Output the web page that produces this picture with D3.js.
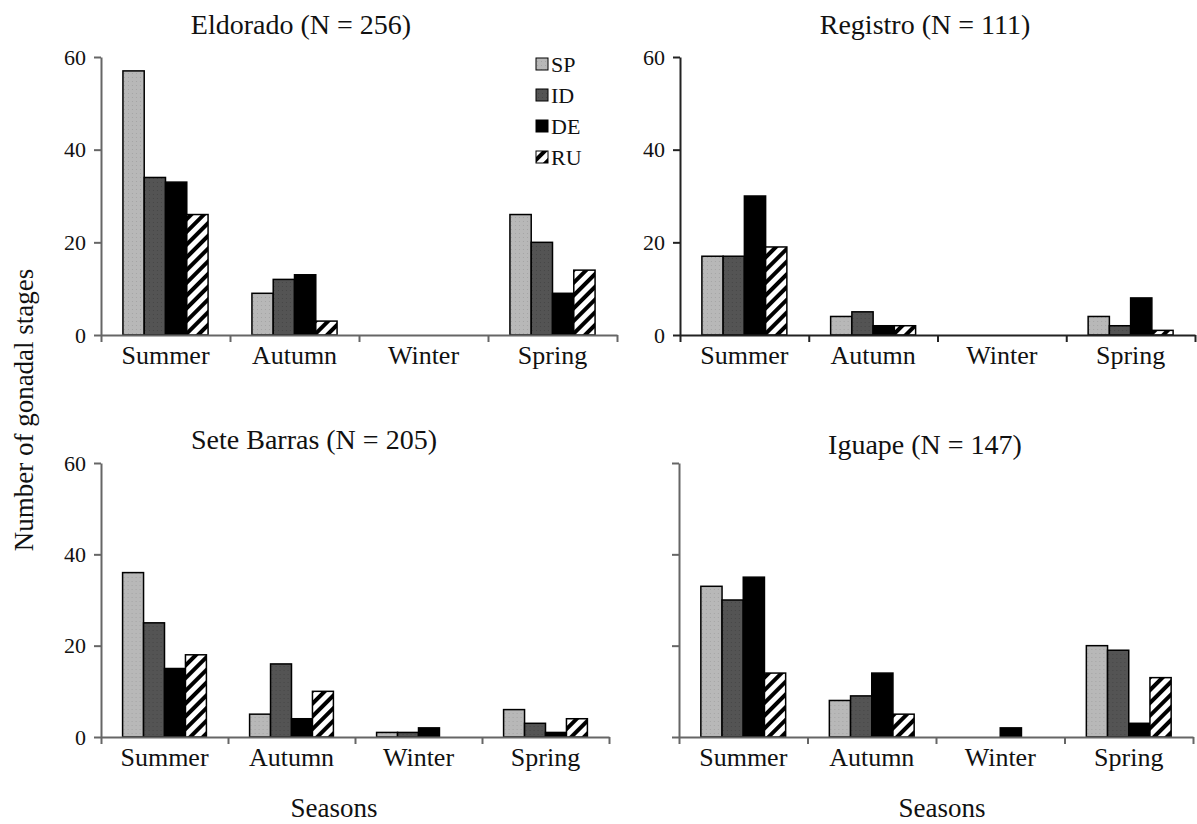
<!DOCTYPE html>
<html>
<head>
<meta charset="utf-8">
<script src="https://cdn.jsdelivr.net/npm/d3@7"></script>
<style>
  body { margin: 0; background: #fff; }
</style>
</head>
<body>
<svg id="chart" width="1197" height="824"></svg>
<script>
// data
var seasons = ["Summer", "Autumn", "Winter", "Spring"];
var stages = ["SP", "ID", "DE", "RU"];
var sites = ["Eldorado", "Registro", "Sete Barras", "Iguape"];
var sampleSizes = [256, 111, 205, 147];
var yTicks = [0, 20, 40, 60];

// rows = seasons, columns = SP, ID, DE, RU
var eldorado   = [[57, 34, 33, 26], [9, 12, 13, 3], [0, 0, 0, 0], [26, 20, 9, 14]];
var registro   = [[17, 17, 30, 19], [4, 5, 2, 2], [0, 0, 0, 0], [4, 2, 8, 1]];
var seteBarras = [[36, 25, 15, 18], [5, 16, 4, 10], [1, 1, 2, 0], [6, 3, 1, 4]];
var iguape     = [[33, 30, 35, 14], [8, 9, 14, 5], [0, 0, 2, 0], [20, 19, 3, 13]];
var siteValues = [eldorado, registro, seteBarras, iguape];

var FONT = "Liberation Serif, Tinos, Times New Roman, Times, DejaVu Serif, serif";

// layout of the four panels
var panels = [
    {left: 101, right: 617, top: 57, bottom: 335, titleX: 301, titleY: 34, labels: true, axisColor: "#666", legend: true},
    {left: 680, right: 1195, top: 57, bottom: 335, titleX: 925, titleY: 34, labels: true, axisColor: "#222"},
    {left: 101, right: 609, top: 463, bottom: 737, titleX: 314, titleY: 449, labels: true, axisColor: "#666", seasonsX: 334},
    {left: 679, right: 1193, top: 463, bottom: 737, titleX: 925, titleY: 454, labels: false, axisColor: "#666", seasonsX: 942}
];

var svg = d3.select("#chart").attr("font-family", FONT);
var defs = svg.append("defs");

// fills
var sp = defs.append("pattern").attr("id", "fillSP")
    .attr("width", 4).attr("height", 4).attr("patternUnits", "userSpaceOnUse");
sp.append("rect").attr("width", 4).attr("height", 4).attr("fill", "#b8b8b8");
sp.append("rect").attr("x", 1).attr("y", 1).attr("width", 1).attr("height", 1).attr("fill", "#a4a4a4");

var id = defs.append("pattern").attr("id", "fillID")
    .attr("width", 4).attr("height", 4).attr("patternUnits", "userSpaceOnUse");
id.append("rect").attr("width", 4).attr("height", 4).attr("fill", "#545454");
id.append("rect").attr("x", 2).attr("y", 2).attr("width", 1).attr("height", 1).attr("fill", "#464646");

var ru = defs.append("pattern").attr("id", "fillRU")
    .attr("width", 9).attr("height", 9).attr("patternUnits", "userSpaceOnUse")
    .attr("patternTransform", "rotate(45)");
ru.append("rect").attr("width", 9).attr("height", 9).attr("fill", "#fff");
ru.append("rect").attr("width", 4).attr("height", 9).attr("fill", "#000");

var fills = {SP: "url(#fillSP)", ID: "url(#fillID)", DE: "#000", RU: "url(#fillRU)"};

function label(sel, size) {
    return sel.attr("font-family", FONT).attr("font-size", size).attr("fill", "#111");
}

panels.forEach(function (p, i) {
    var g = svg.append("g");
    var values = siteValues[i];

    var y = d3.scaleLinear().domain([0, 60]).range([p.bottom, p.top]);
    var x0 = d3.scaleBand().domain(seasons).range([p.left, p.right])
        .paddingInner(0.34).paddingOuter(0.17);
    var x1 = d3.scaleBand().domain(stages).range([0, x0.bandwidth()]);
    var edges = d3.scaleLinear().domain([0, seasons.length]).range([p.left, p.right]);

    // bars
    var groups = g.selectAll("g.season")
        .data(seasons)
        .join("g")
        .attr("class", "season")
        .attr("transform", function (s) { return "translate(" + x0(s) + ",0)"; });

    groups.selectAll("rect")
        .data(function (s, j) {
            return stages.map(function (st, k) { return {stage: st, value: values[j][k]}; })
                .filter(function (d) { return d.value > 0; });
        })
        .join("rect")
        .attr("x", function (d) { return x1(d.stage); })
        .attr("width", x1.bandwidth())
        .attr("y", function (d) { return y(d.value); })
        .attr("height", function (d) { return y(0) - y(d.value); })
        .attr("fill", function (d) { return fills[d.stage]; })
        .attr("stroke", "#000")
        .attr("stroke-width", 1.5);

    // y axis
    var yAxis = d3.axisLeft(y).tickValues(yTicks).tickSize(7).tickSizeOuter(0).tickPadding(8);
    if (!p.labels) yAxis.tickFormat("");
    var ya = g.append("g").attr("transform", "translate(" + p.left + ",0)").call(yAxis);
    label(ya.selectAll("text"), 22);

    // x axis with ticks on the category edges
    var xa = g.append("g").attr("transform", "translate(0," + p.bottom + ")")
        .call(d3.axisBottom(edges).tickValues(d3.range(seasons.length + 1))
            .tickSize(7).tickSizeOuter(0).tickFormat(""));

    [ya, xa].forEach(function (a) {
        a.select(".domain").attr("stroke", p.axisColor).attr("stroke-width", 2);
        a.selectAll(".tick line").attr("stroke", p.axisColor).attr("stroke-width", 2);
    });

    var xl = g.append("g").attr("transform", "translate(0," + p.bottom + ")")
        .call(d3.axisBottom(x0).tickSize(0).tickPadding(11))
        .call(function (a) { a.select(".domain").remove(); });
    label(xl.selectAll("text"), 26);

    // title
    label(g.append("text"), 28)
        .attr("x", p.titleX)
        .attr("y", p.titleY)
        .attr("text-anchor", "middle")
        .text(sites[i] + " (N = " + sampleSizes[i] + ")");

    if (p.seasonsX) {
        label(g.append("text"), 27)
            .attr("x", p.seasonsX)
            .attr("y", 817)
            .attr("text-anchor", "middle")
            .text("Seasons");
    }

    if (p.legend) {
        var lg = g.append("g").attr("transform", "translate(536,64)");
        var item = lg.selectAll("g").data(stages).join("g")
            .attr("transform", function (d, k) { return "translate(0," + (k * 31) + ")"; });
        item.append("rect")
            .attr("x", 0).attr("y", -6).attr("width", 12).attr("height", 12)
            .attr("fill", function (d) { return fills[d]; })
            .attr("stroke", "#000").attr("stroke-width", 1);
        label(item.append("text"), 22)
            .attr("x", 15).attr("y", 0).attr("dy", "0.35em")
            .text(function (d) { return d; });
    }
});

label(svg.append("text"), 27)
    .attr("transform", "translate(33,410) rotate(-90)")
    .attr("text-anchor", "middle")
    .text("Number of gonadal stages");
</script>
</body>
</html>
